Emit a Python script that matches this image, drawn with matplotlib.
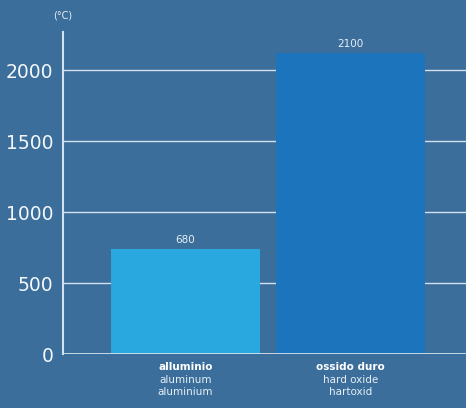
import matplotlib.pyplot as plt

# values printed on the bars and the heights the bars are drawn at
value_labels = ["680", "2100"]
bar_heights = [740, 2120]
cat_main = ["alluminio", "ossido duro"]
cat_en = ["aluminum", "hard oxide"]
cat_de = ["aluminium", "hartoxid"]
yticks = [0, 500, 1000, 1500, 2000]

bg = "#3b6e9b"
bar_colors = ["#29a8e0", "#1c75bc"]
grid_col = "#d3e2ee"
txt = "#ffffff"

plt.rcParams["font.family"] = ["DejaVu Sans"]

fig = plt.figure(figsize=(4.66, 4.08), dpi=100, facecolor=bg)
ax = fig.add_axes([63 / 466, 1 - 354 / 408, 1 - 63 / 466, (354 - 32) / 408])
ax.set_facecolor(bg)

x = range(len(bar_heights))
ax.bar(x, bar_heights, width=0.903, color=bar_colors, zorder=3)

ax.set_xlim(-0.742, 1.70)
ax.set_ylim(0, 2268)

for t in yticks[1:]:
    ax.axhline(t, color=grid_col, lw=1.0, zorder=1)

for s in ["top", "right", "bottom"]:
    ax.spines[s].set_visible(False)
ax.spines["left"].set_color(grid_col)
ax.spines["left"].set_linewidth(1.5)
ax.axhline(0, color=grid_col, lw=2.0, zorder=4)

ax.set_yticks(yticks)
ax.set_yticklabels([str(t) for t in yticks], fontsize=13.5, color="#f4f7fa")
ax.tick_params(axis="y", length=0, pad=7)
ax.set_xticks([])

for i, (h, lab) in enumerate(zip(bar_heights, value_labels)):
    ax.text(i, h + 25, lab, ha="center", va="bottom", fontsize=7.5, color="#e6eef5")

for i in x:
    ax.text(i, -95, cat_main[i], ha="center", va="center", fontsize=7.5,
            fontweight="bold", color=txt)
    ax.text(i, -185, cat_en[i], ha="center", va="center", fontsize=7.5, color="#e6eef5")
    ax.text(i, -268, cat_de[i], ha="center", va="center", fontsize=7.5, color="#e6eef5")

fig.text(63 / 466, 1 - 16 / 408, "(°C)", ha="center", va="center",
         fontsize=7, color="#e6eef5")

fig.savefig("out.png", dpi=100, facecolor=bg)
